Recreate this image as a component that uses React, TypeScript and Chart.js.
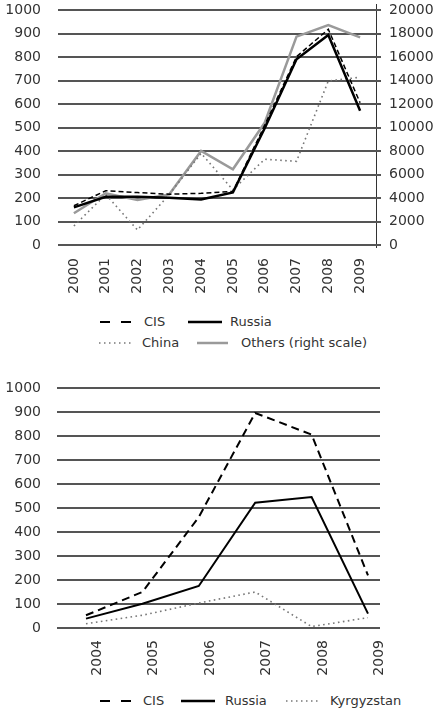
import React, { useEffect, useRef } from "react";
import { Chart, registerables } from "chart.js";

Chart.register(...registerables);

// ---------- Top chart data ----------
const years1 = ["2000", "2001", "2002", "2003", "2004", "2005", "2006", "2007", "2008", "2009"];
const seriesNames1 = ["CIS", "Russia", "China", "Others (right scale)"];
const cis1 = [167, 231, 223, 216, 220, 228, 510, 801, 918, 605];
const russia1 = [160, 205, 205, 201, 194, 224, 497, 790, 894, 571];
const china1 = [81, 215, 64, 215, 390, 235, 365, 356, 698, 714];
const others1 = [2700, 4400, 3830, 4310, 8000, 6440, 10400, 17730, 18720, 17670];
const leftMax1 = 1000;
const leftStep1 = 100;
const rightMax1 = 20000;
const rightStep1 = 2000;

// ---------- Bottom chart data ----------
const years2 = ["2004", "2005", "2006", "2007", "2008", "2009"];
const seriesNames2 = ["CIS", "Russia", "Kyrgyzstan"];
const cis2 = [53, 150, 462, 896, 806, 219];
const russia2 = [39, 101, 175, 522, 546, 60];
const kyrgyz2 = [18, 53, 104, 150, 6, 43];
const leftMax2 = 1000;
const leftStep2 = 100;

const FONT = "'DejaVu Sans', sans-serif";
const TEXT = "#333";
const GRID = "#555";
const tickFont = { family: FONT, size: 14 };
const plain = (v: any) => String(v);

// right axis line (a bit longer than the plot) with small outward tick marks
const rightAxis = {
  id: "rightAxis",
  afterDatasetsDraw(chart: any) {
    const s = chart.scales.y2;
    if (!s) return;
    const ctx = chart.ctx;
    const area = chart.chartArea;
    const x = Math.round(s.left);
    ctx.save();
    ctx.fillStyle = "#333";
    ctx.fillRect(x, area.top - 6, 1, area.bottom - area.top + 9);
    ctx.fillStyle = GRID;
    s.ticks.forEach((t: any) => {
      const py = Math.round(s.getPixelForValue(t.value));
      ctx.fillRect(x, py - 1, 5, 2);
    });
    ctx.restore();
  },
};

// grid helpers: tick length only offsets the labels, tick marks themselves are not drawn
const yGrid = (offset: number) => ({
  display: true,
  drawOnChartArea: true,
  drawTicks: true,
  tickLength: offset,
  tickWidth: 0,
  color: GRID,
  lineWidth: 2,
});
const hiddenGrid = (offset: number) => ({ display: false, drawTicks: true, tickLength: offset, tickWidth: 0 });

const Sample = ({ x, y, w, color, width, dash }: any) => (
  <svg style={{ position: "absolute", left: x, top: y - 5 }} width={w} height={10}>
    <line x1={0} y1={5} x2={w} y2={5} stroke={color} strokeWidth={width} strokeDasharray={dash} />
  </svg>
);

const Label = ({ x, y, text }: any) => (
  <span
    style={{
      position: "absolute",
      left: x,
      top: y - 8,
      lineHeight: "16px",
      fontSize: 13,
      color: TEXT,
      whiteSpace: "nowrap",
      fontFamily: FONT,
    }}
  >
    {text}
  </span>
);

export default function App() {
  const topRef = useRef<HTMLCanvasElement | null>(null);
  const botRef = useRef<HTMLCanvasElement | null>(null);

  useEffect(() => {
    const top = new Chart(topRef.current!, {
      type: "line",
      data: {
        labels: years1,
        datasets: [
          { label: seriesNames1[1], data: russia1, borderColor: "#000", borderWidth: 2.5, yAxisID: "y" },
          { label: seriesNames1[0], data: cis1, borderColor: "#000", borderWidth: 1.5, borderDash: [5, 3], yAxisID: "y" },
          { label: seriesNames1[2], data: china1, borderColor: "#777", borderWidth: 1.6, borderDash: [1.6, 3.4], yAxisID: "y" },
          { label: seriesNames1[3], data: others1, borderColor: "#9a9a9a", borderWidth: 2.5, yAxisID: "y2" },
        ],
      },
      options: {
        responsive: false,
        animation: false,
        events: [],
        elements: { point: { radius: 0 }, line: { tension: 0 } },
        layout: { padding: { top: 10, left: 0, right: 0, bottom: 0 } },
        plugins: { legend: { display: false }, tooltip: { enabled: false } },
        scales: {
          x: {
            type: "category",
            offset: true,
            grid: hiddenGrid(13),
            border: { display: false },
            ticks: { minRotation: 90, maxRotation: 90, padding: 0, font: tickFont, color: TEXT, autoSkip: false },
            afterFit: (s: any) => { s.height = 55; },
          },
          y: {
            position: "left",
            min: 0,
            max: leftMax1,
            ticks: { stepSize: leftStep1, padding: 0, font: tickFont, color: TEXT, callback: plain },
            grid: yGrid(17),
            border: { display: false },
            afterFit: (s: any) => { s.width = 58; },
          },
          y2: {
            position: "right",
            min: 0,
            max: rightMax1,
            ticks: { stepSize: rightStep1, padding: 0, font: tickFont, color: TEXT, callback: plain },
            grid: hiddenGrid(13),
            border: { display: false },
            afterFit: (s: any) => { s.width = 64; },
          },
        },
      },
      plugins: [rightAxis],
    } as any);

    const bottom = new Chart(botRef.current!, {
      type: "line",
      data: {
        datasets: [
          { label: seriesNames2[1], data: russia2.map((v, i) => ({ x: i, y: v })), borderColor: "#000", borderWidth: 2 },
          { label: seriesNames2[0], data: cis2.map((v, i) => ({ x: i, y: v })), borderColor: "#000", borderWidth: 2, borderDash: [8, 5] },
          { label: seriesNames2[2], data: kyrgyz2.map((v, i) => ({ x: i, y: v })), borderColor: "#777", borderWidth: 1.6, borderDash: [1.6, 3.4] },
        ],
      },
      options: {
        responsive: false,
        animation: false,
        events: [],
        elements: { point: { radius: 0 }, line: { tension: 0 } },
        layout: { padding: { top: 28, left: 0, right: 60, bottom: 0 } },
        plugins: { legend: { display: false }, tooltip: { enabled: false } },
        scales: {
          x: {
            type: "linear",
            min: -0.514,
            max: 5.213,
            grid: hiddenGrid(12),
            border: { display: false },
            afterBuildTicks: (s: any) => {
              s.ticks = years2.map((_, i) => ({ value: i + 0.2 }));
            },
            ticks: {
              callback: (_v: any, i: number) => years2[i],
              minRotation: 90,
              maxRotation: 90,
              padding: 0,
              font: tickFont,
              color: TEXT,
              autoSkip: false,
            },
            afterFit: (s: any) => { s.height = 62; },
          },
          y: {
            position: "left",
            min: 0,
            max: leftMax2,
            ticks: { stepSize: leftStep2, padding: 0, font: tickFont, color: TEXT, callback: plain },
            grid: yGrid(16),
            border: { display: false },
            afterFit: (s: any) => { s.width = 57; },
          },
        },
      },
    } as any);

    return () => {
      top.destroy();
      bottom.destroy();
    };
  }, []);

  return (
    <div
      style={{
        position: "fixed",
        left: 0,
        top: 0,
        width: 440,
        height: 712,
        background: "#fff",
        fontFamily: FONT,
        overflow: "hidden",
      }}
    >
      <canvas ref={topRef} width={440} height={300} style={{ position: "absolute", left: 0, top: 0 }} />
      <canvas ref={botRef} width={440} height={330} style={{ position: "absolute", left: 0, top: 360 }} />

      {/* Top legend */}
      <Sample x={100} y={322} w={33} color="#000" width={2} dash="10 11" />
      <Label x={144} y={322} text={seriesNames1[0]} />
      <Sample x={188} y={322} w={34} color="#000" width={2.5} />
      <Label x={230} y={322} text={seriesNames1[1]} />
      <Sample x={99} y={343} w={34} color="#777" width={1.5} dash="1.5 3.5" />
      <Label x={142} y={343} text={seriesNames1[2]} />
      <Sample x={197} y={343} w={31} color="#9a9a9a" width={2.5} />
      <Label x={241} y={343} text={seriesNames1[3]} />

      {/* Bottom legend */}
      <Sample x={100} y={701} w={31} color="#000" width={2} dash="10 11" />
      <Label x={143} y={701} text={seriesNames2[0]} />
      <Sample x={181} y={701} w={34} color="#000" width={2.5} />
      <Label x={225} y={701} text={seriesNames2[1]} />
      <Sample x={286} y={701} w={34} color="#777" width={1.5} dash="1.5 3.5" />
      <Label x={330} y={701} text={seriesNames2[2]} />
    </div>
  );
}
